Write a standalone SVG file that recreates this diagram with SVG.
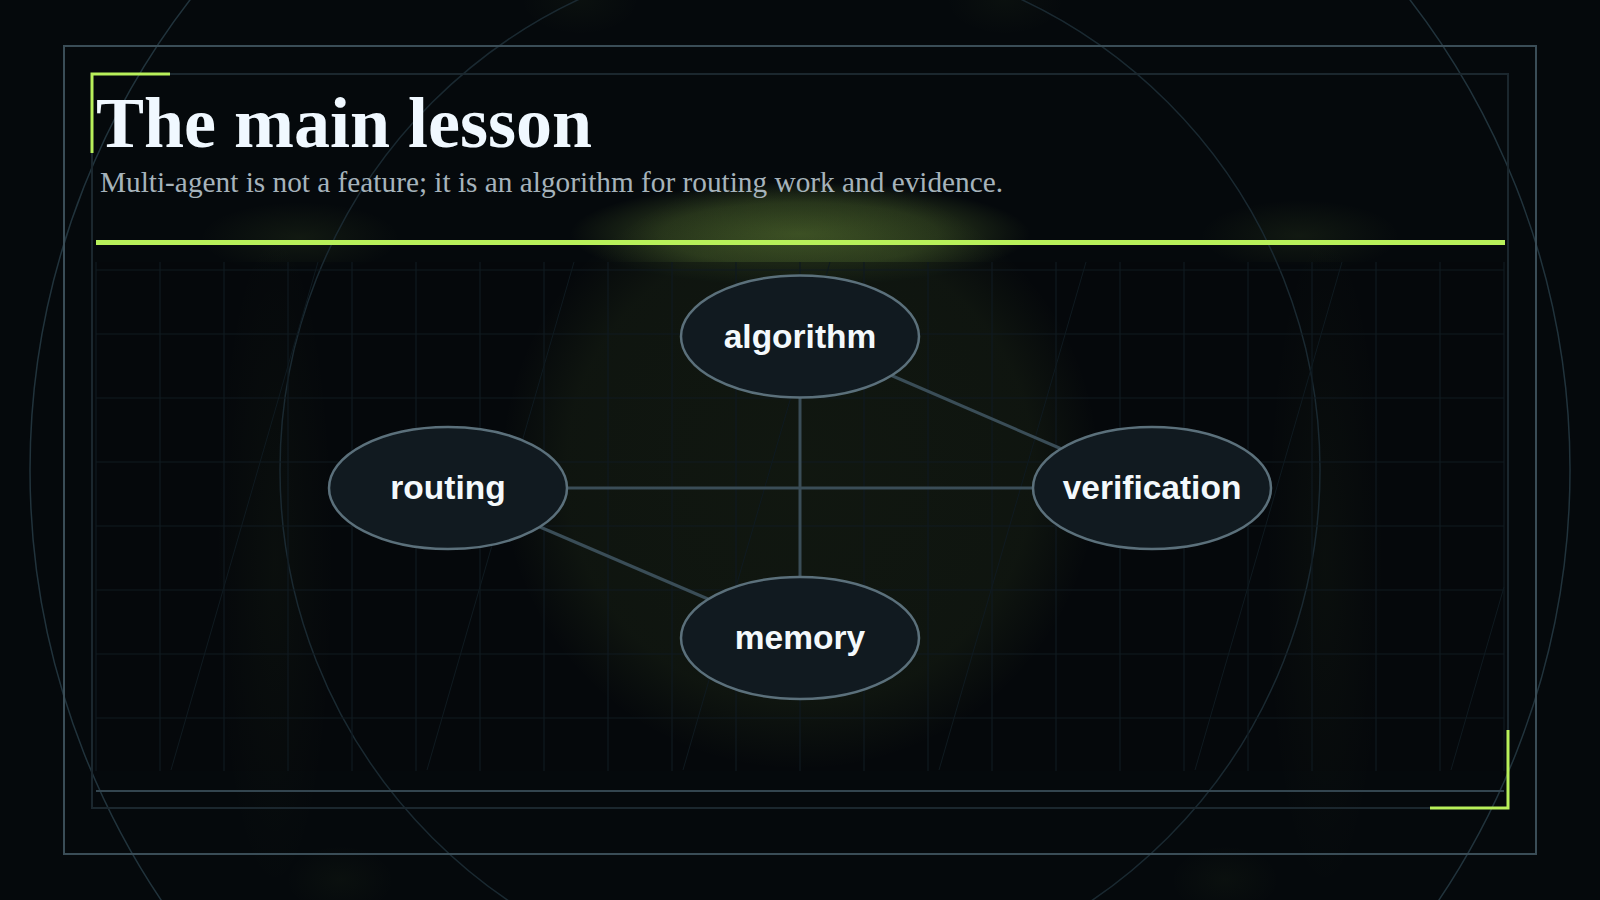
<svg xmlns="http://www.w3.org/2000/svg" width="1600" height="900" viewBox="0 0 1600 900">
  <defs>
    <radialGradient id="gCenter" cx="0.5" cy="0.5" r="0.5">
      <stop offset="0" stop-color="#b8f05a" stop-opacity="0.065"/>
      <stop offset="0.78" stop-color="#b8f05a" stop-opacity="0.055"/>
      <stop offset="1" stop-color="#b8f05a" stop-opacity="0"/>
    </radialGradient>
    <radialGradient id="gLine" cx="0.5" cy="0.5" r="0.5">
      <stop offset="0" stop-color="#b8f05a" stop-opacity="0.27"/>
      <stop offset="0.6" stop-color="#b8f05a" stop-opacity="0.17"/>
      <stop offset="1" stop-color="#b8f05a" stop-opacity="0"/>
    </radialGradient>
    <radialGradient id="gSoft" cx="0.5" cy="0.5" r="0.5">
      <stop offset="0" stop-color="#b8f05a" stop-opacity="0.07"/>
      <stop offset="1" stop-color="#b8f05a" stop-opacity="0"/>
    </radialGradient>
    <radialGradient id="gFaint" cx="0.5" cy="0.5" r="0.5">
      <stop offset="0" stop-color="#b8f05a" stop-opacity="0.03"/>
      <stop offset="1" stop-color="#b8f05a" stop-opacity="0"/>
    </radialGradient>
    <style>
      .ring { fill: none; stroke-width: 1.5; }
      .grid { fill: none; stroke: #101a20; stroke-width: 1.2; }
      .diag { fill: none; stroke: #0f1a20; stroke-width: 1; }
      .frame { fill: none; }
      .accent { fill: none; stroke: #b8f05a; stroke-width: 3; }
      .edge { stroke: #3a4d57; stroke-width: 3; fill: none; }
      .node ellipse { fill: #111a20; stroke: #5b707b; stroke-width: 2.5; }
      .node text { font-family: "Liberation Sans", Arial, sans-serif; font-weight: bold; font-size: 33.5px; fill: #f4f9fc; text-anchor: middle; }
    </style>
  </defs>

  <rect x="0" y="0" width="1600" height="900" fill="#05090c"/>

  <g id="glows">
    <ellipse cx="800" cy="234" rx="230" ry="52" fill="url(#gLine)"/>
    <ellipse cx="300" cy="238" rx="100" ry="36" fill="url(#gSoft)"/>
    <ellipse cx="1300" cy="236" rx="100" ry="36" fill="url(#gSoft)"/>
    <ellipse cx="580" cy="0" rx="60" ry="35" fill="url(#gFaint)"/>
    <ellipse cx="1005" cy="0" rx="60" ry="35" fill="url(#gFaint)"/>
    <ellipse cx="340" cy="880" rx="55" ry="35" fill="url(#gFaint)"/>
    <ellipse cx="1225" cy="880" rx="55" ry="35" fill="url(#gFaint)"/>
  </g>

  <rect id="panel" x="96" y="262" width="1408" height="509" fill="#05090c" fill-opacity="0.6"/>

  <g id="glows-panel">
    <ellipse cx="800" cy="470" rx="300" ry="300" fill="url(#gCenter)"/>
    <ellipse cx="275" cy="560" rx="60" ry="340" fill="url(#gFaint)"/>
    <ellipse cx="1325" cy="560" rx="60" ry="340" fill="url(#gFaint)"/>
  </g>

  <g id="rings">
    <circle class="ring" cx="800" cy="470" r="520" stroke="#1a2931"/>
    <circle class="ring" cx="800" cy="470" r="770" stroke="#21333c"/>
  </g>

  <g id="grid">
    <path class="grid" d="M96 262V771M160 262V771M224 262V771M288 262V771M352 262V771M416 262V771M480 262V771M544 262V771M608 262V771M672 262V771M736 262V771M800 262V771M864 262V771M928 262V771M992 262V771M1056 262V771M1120 262V771M1184 262V771M1248 262V771M1312 262V771M1376 262V771M1440 262V771M1504 262V771"/>
    <path class="grid" d="M96 270H1504M96 334H1504M96 398H1504M96 462H1504M96 526H1504M96 590H1504M96 654H1504M96 718H1504"/>
    <path class="diag" d="M171 770L318 262M427 770L574 262M683 770L830 262M939 770L1086 262M1195 770L1342 262M1451 770L1504 587"/>
  </g>

  <g id="frames">
    <rect class="frame" x="64" y="46" width="1472" height="808" stroke="#3a4d57" stroke-width="2"/>
    <rect class="frame" x="92" y="74" width="1416" height="734" stroke="#1b272e" stroke-width="2"/>
    <line x1="96" y1="791" x2="1504" y2="791" stroke="#33454f" stroke-width="2"/>
    <line x1="96" y1="242.5" x2="1505" y2="242.5" stroke="#b8f05a" stroke-width="5"/>
    <path class="accent" d="M92 153V74H170"/>
    <path class="accent" d="M1508 730V808H1430"/>
  </g>

  <g id="title">
    <text x="96" y="147" font-family="'Liberation Serif', 'Times New Roman', serif" font-weight="bold" font-size="72" fill="#f0f8ff">The main lesson</text>
    <text x="100" y="192" font-family="'Liberation Serif', 'Times New Roman', serif" font-size="29.3" fill="#a6b3bb">Multi-agent is not a feature; it is an algorithm for routing work and evidence.</text>
  </g>

  <g id="connectors">
    <line class="edge" x1="800" y1="397" x2="800" y2="577"/>
    <line class="edge" x1="567" y1="488" x2="1033" y2="488"/>
    <line class="edge" x1="891.5" y1="375.5" x2="1060.5" y2="448.5"/>
    <line class="edge" x1="540" y1="527" x2="708" y2="599"/>
  </g>

  <g id="node-algorithm" class="node">
    <ellipse cx="800" cy="336.5" rx="119" ry="61"/>
    <text x="800" y="347.5">algorithm</text>
  </g>
  <g id="node-routing" class="node">
    <ellipse cx="448" cy="488" rx="119" ry="61"/>
    <text x="448" y="499">routing</text>
  </g>
  <g id="node-verification" class="node">
    <ellipse cx="1152" cy="488" rx="119" ry="61"/>
    <text x="1152" y="499">verification</text>
  </g>
  <g id="node-memory" class="node">
    <ellipse cx="800" cy="638" rx="119" ry="61"/>
    <text x="800" y="649">memory</text>
  </g>
</svg>
